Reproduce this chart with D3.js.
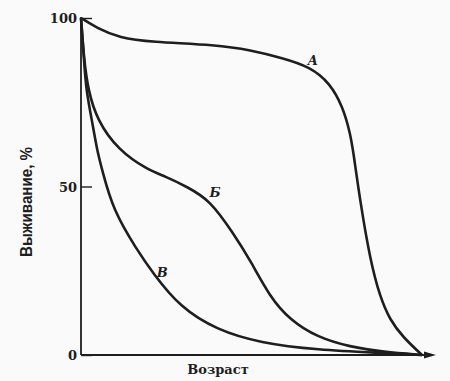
<!DOCTYPE html>
<html>
<head>
<meta charset="utf-8">
<script src="https://cdn.jsdelivr.net/npm/d3@7"></script>
<style>
  body { margin: 0; background: #fafafa; }
</style>
</head>
<body>
<script>
var w = 450;
var h = 381;

// age (% of max lifespan) and survival (%)
var ageA  = [0, 4.7, 11.4, 20.2, 39.9, 49.6, 59.2, 67.2, 73.0, 76.8, 78.9, 79.8, 81.8, 84.8, 87.7, 90.6, 94.4, 100];
var survA = [100, 97.0, 94.1, 92.9, 92.0, 90.5, 88.1, 85.5, 80.7, 73.6, 65.9, 60.8, 46.0, 28.2, 17.2, 10.4, 5.3, 0];

var ageB  = [0, 0.9, 2.1, 4.7, 10.9, 19.6, 24.6, 31.1, 37.8, 44.6, 49.6, 55.4, 61.3, 69.2, 78.9, 88.6, 100];
var survB = [100, 87.5, 78.6, 69.7, 60.8, 54.9, 53.1, 49.9, 46.0, 36.2, 28.2, 17.2, 10.4, 5.3, 2.4, 0.9, 0];

var ageV  = [0, 0.9, 1.5, 3.2, 4.7, 6.2, 9.4, 16.4, 21.1, 29.0, 39.9, 52.5, 69.2, 88.6, 100];
var survV = [100, 87.5, 78.6, 69.7, 60.8, 54.9, 43.0, 31.2, 24.3, 14.2, 7.4, 3.6, 1.5, 0.6, 0];

var yTicks = [0, 50, 100];
var curveNames = ["A", "Б", "В"];
var labelAt = [[68, 86], [39.3, 47], [23.8, 23.2]];

const svg = d3.select("body").append("svg")
    .attr("width", w)
    .attr("height", h);

var x = d3.scaleLinear().domain([0, 100]).range([81, 422]);
var y = d3.scaleLinear().domain([0, 100]).range([355, 18]);

var ink = "#1e1e1e";

// y axis
var yAxis = d3.axisRight(y)
    .tickValues(yTicks)
    .tickSize(11)
    .tickFormat("");

var gy = svg.append("g")
    .attr("transform", "translate(" + 81 + ",0)")
    .call(yAxis);
gy.select(".domain").remove();
gy.selectAll(".tick line").attr("stroke", ink).attr("stroke-width", 1.4);

svg.append("line")
    .attr("x1", 81).attr("x2", 81)
    .attr("y1", y(100) - 1).attr("y2", y(0))
    .attr("stroke", ink).attr("stroke-width", 1.8);

svg.selectAll(".ylab")
    .data(yTicks)
    .enter().append("text")
    .attr("class", "ylab")
    .attr("x", 77)
    .attr("y", d => y(d) + 5)
    .attr("text-anchor", "end")
    .style("font-family", "'DejaVu Serif', serif")
    .style("font-weight", "bold")
    .style("font-size", "13px")
    .style("fill", ink)
    .text(d => d);

// x axis with arrow
svg.append("line")
    .attr("x1", 81).attr("x2", 426)
    .attr("y1", y(0)).attr("y2", y(0))
    .attr("stroke", ink).attr("stroke-width", 1.8);

svg.append("path")
    .attr("d", "M424," + (y(0) - 3.5) + " L436," + y(0) + " L424," + (y(0) + 3.5) + " Z")
    .attr("fill", ink);

// curves - smoothed, like the hand drawn figure
var line = d3.line()
    .x(d => x(d[0]))
    .y(d => y(d[1]))
    .curve(d3.curveBasis);

var series = [
    d3.zip(ageA, survA),
    d3.zip(ageB, survB),
    d3.zip(ageV, survV)
];

svg.selectAll(".curve")
    .data(series)
    .enter().append("path")
    .attr("class", "curve")
    .attr("d", line)
    .attr("fill", "none")
    .attr("stroke", ink)
    .attr("stroke-width", 2.6)
    .attr("stroke-linejoin", "round");

svg.selectAll(".clab")
    .data(curveNames)
    .enter().append("text")
    .attr("class", "clab")
    .attr("x", (d, i) => x(labelAt[i][0]))
    .attr("y", (d, i) => y(labelAt[i][1]))
    .attr("text-anchor", "middle")
    .style("font-family", "'DejaVu Serif', serif")
    .style("font-style", "italic")
    .style("font-weight", "bold")
    .style("font-size", "13px")
    .style("fill", ink)
    .text(d => d);

// axis titles
svg.append("text")
    .attr("transform", "translate(32,202) rotate(-90)")
    .attr("text-anchor", "middle")
    .attr("textLength", 110)
    .attr("lengthAdjust", "spacingAndGlyphs")
    .style("font-family", "'Liberation Sans', Arial, sans-serif")
    .style("font-weight", "bold")
    .style("font-size", "16px")
    .style("fill", ink)
    .text("Выживание, %");

svg.append("text")
    .attr("x", 218)
    .attr("y", 374)
    .attr("text-anchor", "middle")
    .style("font-family", "'DejaVu Serif', serif")
    .style("font-weight", "bold")
    .style("font-size", "13px")
    .style("fill", ink)
    .text("Возраст");
</script>
</body>
</html>
